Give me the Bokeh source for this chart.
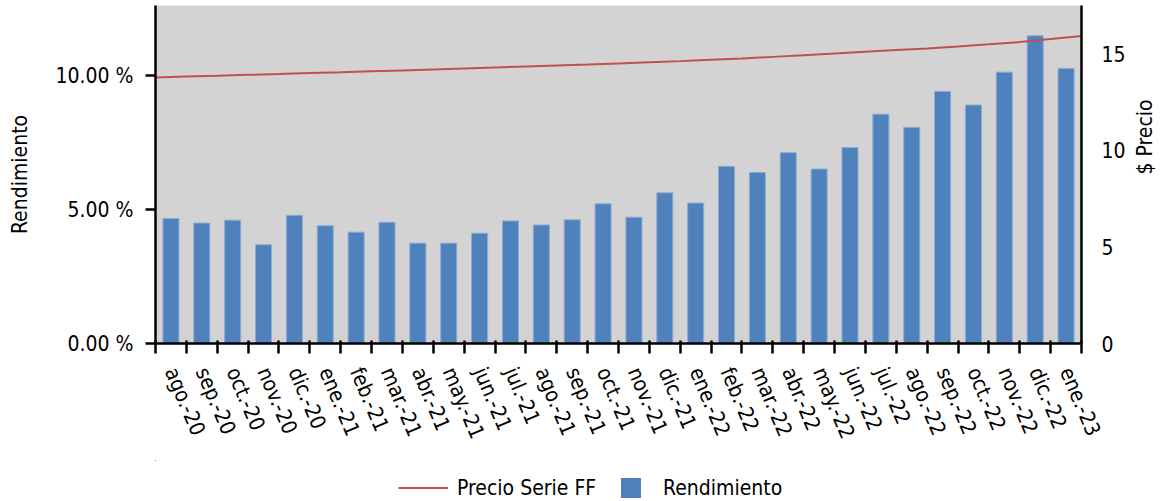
import math

from bokeh.plotting import figure
from bokeh.layouts import column
from bokeh.models import (ColumnDataSource, FixedTicker, Legend, LegendItem,
                          LinearAxis, PrintfTickFormatter, Range1d)
from bokeh.embed import file_html
from bokeh.resources import INLINE

# datos
meses = ["ago.-20", "sep.-20", "oct.-20", "nov.-20", "dic.-20",
         "ene.-21", "feb.-21", "mar.-21", "abr.-21", "may.-21", "jun.-21",
         "jul.-21", "ago.-21", "sep.-21", "oct.-21", "nov.-21", "dic.-21",
         "ene.-22", "feb.-22", "mar.-22", "abr.-22", "may.-22", "jun.-22",
         "jul.-22", "ago.-22", "sep.-22", "oct.-22", "nov.-22", "dic.-22",
         "ene.-23"]

# rendimiento mensual (%)
rendimiento = [4.67, 4.50, 4.61, 3.69, 4.79, 4.40, 4.16, 4.53, 3.75, 3.75,
               4.12, 4.58, 4.43, 4.62, 5.22, 4.72, 5.63, 5.25, 6.62, 6.39,
               7.13, 6.52, 7.32, 8.57, 8.08, 9.42, 8.91, 10.14, 11.50, 10.28]

# precio serie FF al inicio de cada mes (ultimo valor = fin de ene.-23)
precio = [13.77, 13.82, 13.86, 13.91, 13.95, 14.00, 14.04, 14.09, 14.14,
          14.19, 14.24, 14.29, 14.34, 14.39, 14.44, 14.50, 14.56, 14.62,
          14.69, 14.76, 14.84, 14.92, 15.01, 15.10, 15.19, 15.28, 15.38,
          15.49, 15.61, 15.76, 15.92]

rend_ticks = [0, 5, 10]
precio_ticks = [0, 5, 10, 15]

FONT = "DejaVu Sans Condensed"
FS = "21px"
BLUE = "#4f81bd"
RED = "#c0504d"

n = len(meses)
centros = [i + 0.5 for i in range(n)]
bordes = list(range(n + 1))

src_bar = ColumnDataSource(dict(x=centros, rend=rendimiento, mes=meses))
src_line = ColumnDataSource(dict(x=bordes, precio=precio))

p = figure(width=1172, height=460, output_backend="svg", toolbar_location=None,
           x_range=Range1d(0, n), y_range=Range1d(0, 12.63),
           min_border_left=155, min_border_right=91, min_border_top=5,
           min_border_bottom=117)
p.extra_y_ranges = {"precio": Range1d(0, 17.5)}

p.background_fill_color = "#d3d3d3"
p.border_fill_color = "white"
p.outline_line_color = None
p.xgrid.grid_line_color = None
p.ygrid.grid_line_color = None

bars = p.vbar(x="x", top="rend", width=0.52, source=src_bar,
              fill_color=BLUE, line_color="#8fabd2", line_width=1)
line = p.line(x="x", y="precio", source=src_line, y_range_name="precio",
              line_color=RED, line_width=2)

# eje x: etiquetas en el centro, marcas entre meses
xa = p.xaxis[0]
xa.ticker = FixedTicker(ticks=centros, minor_ticks=bordes)
xa.major_label_overrides = {c: m for c, m in zip(centros, meses)}
xa.major_label_orientation = -math.radians(67)
xa.major_tick_line_color = None
xa.major_tick_out = 10
xa.major_label_standoff = 15
xa.minor_tick_in = 3
xa.minor_tick_out = 10
xa.minor_tick_line_color = "black"
xa.minor_tick_line_width = 2.5
xa.axis_line_color = "black"
xa.axis_line_width = 2.5

# eje izquierdo
ya = p.left[0]
ya.ticker = FixedTicker(ticks=rend_ticks)
ya.formatter = PrintfTickFormatter(format="%.2f %%")
ya.axis_label = "Rendimiento"
ya.major_tick_in = 0
ya.major_tick_out = 10
ya.major_tick_line_width = 2.5
ya.major_tick_line_color = "black"
ya.minor_tick_line_color = None
ya.major_label_standoff = 12
ya.axis_label_standoff = 20
ya.axis_line_width = 2.5
ya.axis_line_color = "black"

# eje derecho
yr = LinearAxis(y_range_name="precio", ticker=FixedTicker(ticks=precio_ticks),
                axis_label="$ Precio")
yr.major_tick_line_color = None
yr.major_tick_in = 0
yr.major_tick_out = 0
yr.minor_tick_line_color = None
yr.major_label_standoff = 20
yr.axis_label_standoff = 16
yr.axis_line_width = 2.5
yr.axis_line_color = "black"
yr.axis_label_orientation = math.pi / 2
p.add_layout(yr, "right")

for ax in [xa, ya, yr]:
    ax.major_label_text_font = FONT
    ax.major_label_text_font_size = FS
    ax.major_label_text_color = "black"
    ax.axis_label_text_font = FONT
    ax.axis_label_text_font_size = FS
    ax.axis_label_text_font_style = "normal"
    ax.axis_label_text_color = "black"

# leyenda en una franja propia debajo del grafico
# (los mismos datos, fuera del rango visible, solo para dibujar los simbolos)
pl = figure(width=1172, height=41, output_backend="svg", toolbar_location=None,
            x_range=Range1d(100, 101), y_range=Range1d(-100, -99),
            x_axis_location=None, y_axis_location=None,
            min_border=0)
pl.outline_line_color = None
pl.xgrid.grid_line_color = None
pl.ygrid.grid_line_color = None
ley_linea = pl.line(x="x", y="precio", source=src_line, line_color=RED, line_width=2)
ley_barra = pl.vbar(x="x", top="rend", width=0.52, source=src_bar,
                    fill_color=BLUE, line_color=None)

leg_line = Legend(items=[LegendItem(label="Precio Serie FF", renderers=[ley_linea])],
                  location=(243, 1), glyph_width=50, glyph_height=25,
                  label_standoff=9)
leg_bar = Legend(items=[LegendItem(label="Rendimiento", renderers=[ley_barra])],
                 location=(463, 1), glyph_width=25, glyph_height=25,
                 label_standoff=20)
for lg in [leg_line, leg_bar]:
    lg.padding = 0
    lg.margin = 0
    lg.border_line_color = None
    lg.background_fill_alpha = 0
    lg.label_text_font = FONT
    lg.label_text_font_size = FS
    lg.label_text_color = "black"
    pl.add_layout(lg)

layout = column(p, pl, spacing=0)

open("out.html", "w").write(file_html(layout, INLINE))
